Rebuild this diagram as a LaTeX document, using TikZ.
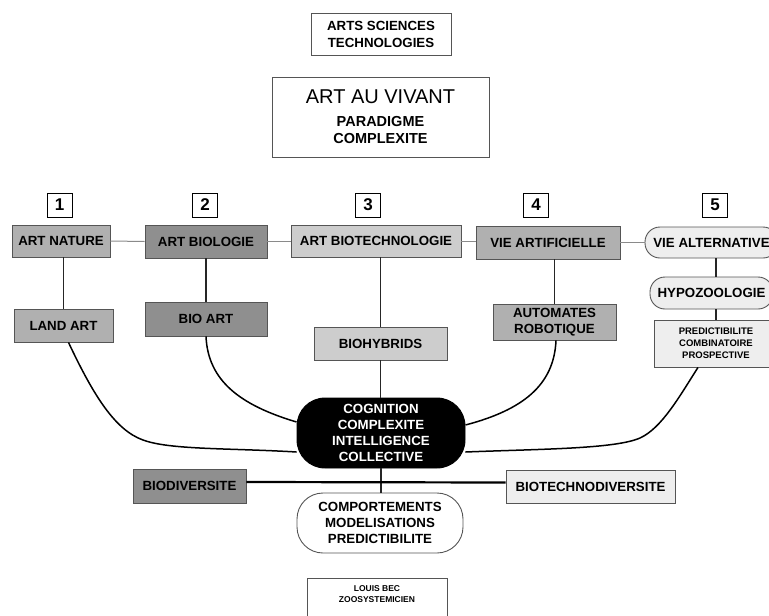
\documentclass[tikz,border=0pt]{standalone}
\usepackage{fontspec}
\setmainfont{Liberation Sans}
\usetikzlibrary{calc}
\definecolor{boxline}{HTML}{555555}
\definecolor{gmid}{HTML}{B0B0B0}
\definecolor{gdark}{HTML}{8F8F8F}
\definecolor{glight}{HTML}{CDCDCD}
\definecolor{gpale}{HTML}{EEEEEE}
\definecolor{linkgray}{HTML}{8A8A8A}
\begin{document}
\begin{tikzpicture}[x=1pt,y=-1pt,
  box/.style={draw=boxline, line width=0.9pt, inner sep=0pt, align=center,
    font=\bfseries\fontsize{13.3}{16}\selectfont},
  numbox/.style={draw=black, line width=0.9pt, fill=white, inner sep=0pt,
    minimum width=25pt, minimum height=24pt, font=\bfseries\fontsize{17}{19}\selectfont},
  hlink/.style={draw=linkgray, line width=1pt},
  vlink/.style={draw=black!85, line width=1.4pt},
  curvelink/.style={draw=black, line width=1.5pt}]
\useasboundingbox (0,0) rectangle (769,616);

% title boxes
\node[box, fill=white, draw=boxline, minimum width=140pt, minimum height=42pt,
  font=\bfseries\fontsize{13.3}{17}\selectfont] (ast) at (381,34) {ARTS SCIENCES\\TECHNOLOGIES};
\node[box, fill=white, minimum width=217pt, minimum height=80pt,
  font=\bfseries\fontsize{14.5}{17}\selectfont] (aav) at (380.5,117)
  {{\mdseries\fontsize{20}{23}\selectfont ART AU VIVANT}\\[6pt]PARADIGME\\COMPLEXITE};

% numbers
\node[numbox] (n1) at (59.5,205) {1};
\node[numbox] (n2) at (205,205) {2};
\node[numbox] (n3) at (368,205) {3};
\node[numbox] (n4) at (536,205) {4};
\node[numbox] (n5) at (715,205) {5};

% top row
\node[box, fill=gmid, minimum width=98pt, minimum height=32pt] (artnature) at (61,241) {ART NATURE};
\node[box, fill=gdark, minimum width=122pt, minimum height=33pt] (artbio) at (206,241.5) {ART BIOLOGIE};
\node[box, fill=glight, minimum width=170pt, minimum height=32pt] (artbiotech) at (376,241) {ART BIOTECHNOLOGIE};
\node[box, fill=gmid, minimum width=144pt, minimum height=33pt] (vieart) at (548,242.5) {VIE ARTIFICIELLE};
\node[box, fill=gpale, rounded corners=15pt, minimum width=133pt, minimum height=31pt] (viealt) at (711.5,242.5) {VIE ALTERNATIVE};

% second row
\node[box, fill=gmid, minimum width=99pt, minimum height=33pt] (landart) at (63.5,325.5) {LAND ART};
\node[box, fill=gdark, minimum width=122pt, minimum height=34pt] (bioart) at (206,319) {BIO ART};
\node[box, fill=glight, minimum width=133pt, minimum height=33pt] (biohyb) at (380.5,343.5) {BIOHYBRIDS};
\node[box, fill=gmid, minimum width=123pt, minimum height=36pt] (autom) at (554.5,322) {AUTOMATES\\ROBOTIQUE};
\node[box, fill=gpale, rounded corners=15pt, minimum width=123pt, minimum height=32pt] (hypo) at (711.5,293) {HYPOZOOLOGIE};
\node[box, fill=gpale, minimum width=124pt, minimum height=47pt,
  font=\bfseries\fontsize{9.5}{12}\selectfont] (predict) at (716,343.5) {PREDICTIBILITE\\COMBINATOIRE\\PROSPECTIVE};

% centre
\node[box, fill=black, draw=black, text=white, rounded corners=28pt,
  minimum width=168pt, minimum height=70pt] (cog) at (381,433) {COGNITION\\COMPLEXITE\\INTELLIGENCE\\COLLECTIVE};
\node[box, fill=gdark, minimum width=113pt, minimum height=34pt] (biodiv) at (189.5,486) {BIODIVERSITE};
\node[box, fill=gpale, minimum width=169pt, minimum height=33pt] (biotechdiv) at (590.5,486.5) {BIOTECHNODIVERSITE};
\node[box, fill=white, rounded corners=26pt, minimum width=166pt, minimum height=60pt] (comp) at (380,523) {COMPORTEMENTS\\MODELISATIONS\\PREDICTIBILITE};

% signature
\node[box, fill=white, minimum width=140pt, minimum height=52pt,
  font=\bfseries\fontsize{8.5}{11}\selectfont] (louis) at (377,604) {LOUIS BEC\\ZOOSYSTEMICIEN\\[8pt]};

% horizontal links top row
\draw[hlink] (artnature.east) -- (artbio.west);
\draw[hlink] (artbio.east) -- (artbiotech.west |- artbio.east);
\draw[hlink] (artbiotech.east) -- (vieart.west |- artbiotech.east);
\draw[hlink] (vieart.east) -- (viealt.west);

% vertical links
\draw[vlink] (artnature.south -| landart.north) -- (landart.north);
\draw[vlink] (artbio.south) -- (bioart.north);
\draw[vlink] (artbiotech.south -| biohyb.north) -- (biohyb.north);
\draw[vlink] (biohyb.south) -- (biohyb.south |- cog.north);
\draw[vlink] (vieart.south -| autom.north) -- (autom.north);
\draw[vlink] (viealt.south -| predict.north) -- (hypo.north -| predict.north);
\draw[vlink] (hypo.south -| predict.north) -- (predict.north);
\draw[vlink] (cog.south) -- (cog.south |- comp.north);

% diversity bar
\draw[draw=black, line width=2.2pt] ([yshift=4pt]biodiv.east) -- ([yshift=4pt]biotechdiv.west);

% curves into the centre
\draw[curvelink] ([xshift=5pt]landart.south) .. controls +(25,53) and +(-28,-10) .. (143,440)
  .. controls +(27,10) and +(-67,-4) .. ([yshift=-19pt]cog.west);
\draw[curvelink] (bioart.south) .. controls +(2,44) and +(-57,-17) .. ([yshift=11pt]cog.west);
\draw[curvelink] ([xshift=1.5pt]autom.south) .. controls +(-2,45) and +(57,-15) .. ([yshift=8pt]cog.east);
\draw[curvelink] ([xshift=-18pt]predict.south) .. controls +(-18,28) and +(22,-10) .. (640,438)
  .. controls +(-25,11) and +(75,-3) .. ([yshift=-19pt]cog.east);
\end{tikzpicture}
\end{document}
